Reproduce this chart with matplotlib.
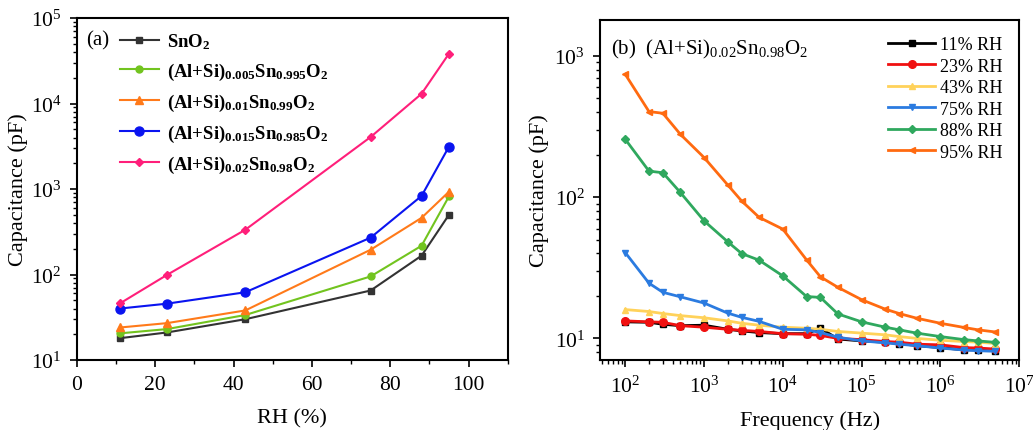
import matplotlib
matplotlib.use("Agg")
import matplotlib.pyplot as plt
from matplotlib.ticker import LogLocator, MultipleLocator, NullFormatter

plt.rcParams["font.family"] = ["Liberation Serif", "DejaVu Serif"]
plt.rcParams["mathtext.fontset"] = "custom"
plt.rcParams["mathtext.rm"] = "Liberation Serif"
plt.rcParams["mathtext.it"] = "Liberation Serif:italic"
plt.rcParams["mathtext.bf"] = "Liberation Serif:bold"

# ---- panel (a): capacitance vs RH ----
rh = [11, 23, 43, 75, 88, 95]
cap_sno2 = [18, 21, 30, 65, 166, 500]
cap_005 = [20.5, 23, 33.6, 95, 217, 820]
cap_01 = [24, 27, 38, 195, 460, 930]
cap_015 = [40, 45.6, 62, 270, 830, 3130]
cap_02 = [46, 99, 334, 4060, 13000, 38300]

labels_a = [
    r"$\mathbf{SnO_2}$",
    r"$\mathbf{(Al{+}Si)_{0.005}Sn_{0.995}O_2}$",
    r"$\mathbf{(Al{+}Si)_{0.01}Sn_{0.99}O_2}$",
    r"$\mathbf{(Al{+}Si)_{0.015}Sn_{0.985}O_2}$",
    r"$\mathbf{(Al{+}Si)_{0.02}Sn_{0.98}O_2}$",
]

# ---- panel (b): capacitance vs frequency for (Al+Si)0.02Sn0.98O2 ----
freq = [1e2, 2e2, 3e2, 5e2, 1e3, 2e3, 3e3, 5e3, 1e4, 2e4,
        3e4, 5e4, 1e5, 2e5, 3e5, 5e5, 1e6, 2e6, 3e6, 5e6]
c_11 = [13.1, 13.0, 12.6, 12.3, 12.4, 11.6, 11.3, 11.0, 10.8, 10.8,
        11.8, 9.9, 9.6, 9.4, 9.2, 8.9, 8.6, 8.3, 8.3, 8.2]
c_23 = [13.3, 13.1, 13.0, 12.3, 12.0, 11.6, 11.4, 11.2, 10.8, 10.7,
        10.5, 10.0, 9.8, 9.5, 9.4, 9.1, 9.0, 8.6, 8.55, 8.4]
c_43 = [16.0, 15.5, 15.0, 14.5, 14.0, 13.3, 12.8, 12.4, 12.0, 11.8,
        11.6, 11.2, 10.9, 10.6, 10.3, 10.0, 9.7, 9.5, 9.4, 9.2]
c_75 = [40.5, 24.6, 21.2, 19.7, 17.8, 15.1, 14.1, 13.2, 11.6, 11.5,
        11.0, 10.2, 9.6, 9.3, 9.1, 8.88, 8.55, 8.27, 8.18, 8.1]
c_88 = [257, 153, 149, 108, 68, 48.3, 39.9, 35.8, 27.7, 19.8,
        19.5, 14.9, 13.1, 12.0, 11.5, 10.9, 10.3, 9.8, 9.6, 9.37]
c_95 = [741, 404, 393, 279, 191, 122, 94, 72, 59.4, 36,
        27.3, 23, 18.8, 16.1, 15.0, 13.9, 12.8, 11.95, 11.5, 11.1]
labels_b = ["11% RH", "23% RH", "43% RH", "75% RH", "88% RH", "95% RH"]

fig = plt.figure(figsize=(10.33, 4.31), dpi=100)
ax1 = fig.add_axes([0.0745, 0.1624, 0.417, 0.7935])
ax2 = fig.add_axes([0.581, 0.1624, 0.4056, 0.789])

series_a = [cap_sno2, cap_005, cap_01, cap_015, cap_02]
colors_a = ["#333333", "#72c41f", "#ff7a1a", "#0a14f0", "#ff1f7a"]
markers_a = ["s", "o", "^", "o", "D"]
msize_a = [4, 5, 5.5, 6.5, 4.5]
for y, c, m, ms, lab in zip(series_a, colors_a, markers_a, msize_a, labels_a):
    ax1.plot(rh, y, color=c, marker=m, markersize=ms, linewidth=1.5, label=lab)

ax1.set_yscale("log")
ax1.set_xlim(0, 110)
ax1.set_ylim(10, 1e5)
ax1.xaxis.set_major_locator(MultipleLocator(20))
ax1.xaxis.set_minor_locator(MultipleLocator(10))
ax1.yaxis.set_major_locator(LogLocator(base=10, numticks=10))
ax1.yaxis.set_minor_locator(LogLocator(base=10, subs=range(2, 10), numticks=10))
ax1.yaxis.set_minor_formatter(NullFormatter())
ax1.set_xlabel("RH (%)", fontsize=16, labelpad=10)
ax1.set_ylabel("Capacitance (pF)", fontsize=16, labelpad=2)
ax1.text(0.022, 0.935, "(a)", transform=ax1.transAxes, fontsize=15, va="center")
ax1.legend(loc="upper left", bbox_to_anchor=(0.06, 1.01), frameon=False,
           fontsize=13.5, labelspacing=0.52, handlelength=2.1, handletextpad=0.45)

series_b = [c_11, c_23, c_43, c_75, c_88, c_95]
colors_b = ["#000000", "#f01010", "#ffd25a", "#2b7be0", "#2fa85e", "#ff6a10"]
markers_b = ["s", "o", "^", "v", "D", "<"]
msize_b = [5, 5.5, 5, 5, 4.5, 5]
for y, c, m, ms, lab in zip(series_b, colors_b, markers_b, msize_b, labels_b):
    ax2.plot(freq, y, color=c, marker=m, markersize=ms, linewidth=2, label=lab)

ax2.set_xscale("log")
ax2.set_yscale("log")
ax2.set_xlim(48, 1e7)
ax2.set_ylim(7.03, 1800)
ax2.xaxis.set_major_locator(LogLocator(base=10, numticks=12))
ax2.xaxis.set_minor_locator(LogLocator(base=10, subs=range(2, 10), numticks=12))
ax2.xaxis.set_minor_formatter(NullFormatter())
ax2.yaxis.set_minor_locator(LogLocator(base=10, subs=range(2, 10), numticks=12))
ax2.yaxis.set_minor_formatter(NullFormatter())
ax2.set_xlabel("Frequency (Hz)", fontsize=16, labelpad=10)
ax2.set_ylabel("Capacitance (pF)", fontsize=16)
ax2.text(0.025, 0.915, r"(b)  (Al+Si)$_{0.02}$Sn$_{0.98}$O$_2$",
         transform=ax2.transAxes, fontsize=15, va="center")
ax2.legend(loc="upper right", bbox_to_anchor=(1.0, 1.0), frameon=False,
           fontsize=13, labelspacing=0.25, handlelength=2.6, handletextpad=0.3)

for ax in (ax1, ax2):
    ax.tick_params(which="major", direction="out", length=5, width=1.2,
                   labelsize=15.5, pad=6)
    ax.tick_params(which="minor", direction="out", length=3, width=1.0)
    for sp in ax.spines.values():
        sp.set_linewidth(1.5)

fig.savefig("out.png", dpi=100)
plt.close(fig)
